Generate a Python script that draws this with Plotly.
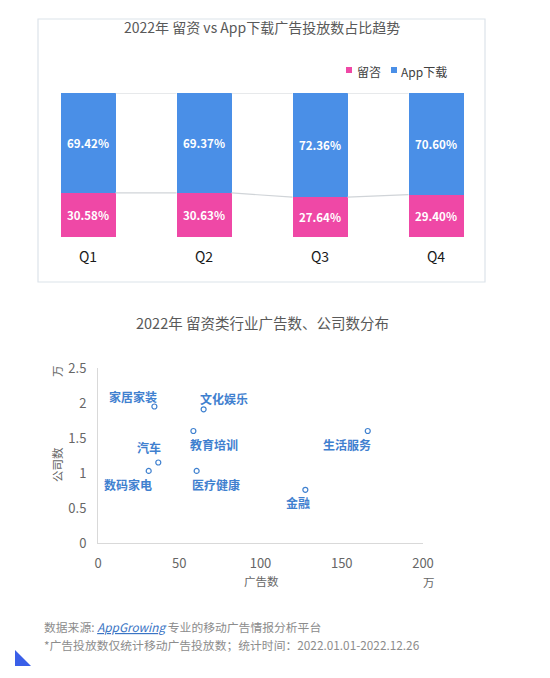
import plotly.graph_objects as go

W, H = 550, 678
OFF = 8  # page body margin
def px(x): return (x - OFF) / W
def py(y): return 1 - (y - OFF) / H

quarters = ["Q1", "Q2", "Q3", "Q4"]
liuzi = [30.58, 30.63, 27.64, 29.40]
app_dl = [69.42, 69.37, 72.36, 70.60]

industries = ["家居家装", "文化娱乐", "教育培训", "生活服务", "汽车", "数码家电", "医疗健康", "金融"]
ad_counts = [34.7, 65.0, 58.7, 166.0, 37.1, 31.2, 60.7, 127.6]      # 万
company_counts = [1.95, 1.91, 1.60, 1.60, 1.15, 1.03, 1.03, 0.76]  # 万
label_shift = [(-21, 10), (20, 11), (21, -13), (-21, -13), (-9, 15), (-21, -14), (19, -14), (-7, -13)]

x_ticks = [0, 50, 100, 150, 200]
y_ticks = [0, 0.5, 1, 1.5, 2, 2.5]

PINK = "#EF48A6"
BLUE = "#4A8FE7"
LBLUE = "#3F80CF"
GRAY = "#666666"
FONT = "Noto Sans CJK SC"
BW = 55 / 116

fig = go.Figure()
xs = list(range(len(quarters)))
fig.add_trace(go.Bar(x=xs, y=liuzi, name="留咨", marker=dict(color=PINK, line=dict(width=0)),
                     width=BW, text=[f"{v:.2f}%" for v in liuzi], textposition="inside",
                     insidetextanchor="middle", textangle=0,
                     textfont=dict(color="white", size=11.5, family=FONT, weight="bold"),
                     xaxis="x", yaxis="y"))
fig.add_trace(go.Bar(x=xs, y=app_dl, name="App下载", marker=dict(color=BLUE, line=dict(width=0)),
                     width=BW, text=[f"{v:.2f}%" for v in app_dl], textposition="inside",
                     insidetextanchor="middle", textangle=0,
                     textfont=dict(color="white", size=11.5, family=FONT, weight="bold"),
                     xaxis="x", yaxis="y"))
# series lines between bars
for i in range(len(quarters) - 1):
    for vals in (liuzi, [a + b for a, b in zip(liuzi, app_dl)]):
        fig.add_trace(go.Scatter(x=[i + BW / 2, i + 1 - BW / 2], y=[vals[i], vals[i + 1]],
                                 mode="lines", line=dict(color="#D0D4D8", width=1.2),
                                 showlegend=False, hoverinfo="skip", xaxis="x", yaxis="y"))

fig.add_trace(go.Scatter(x=ad_counts, y=company_counts, mode="markers",
                         marker=dict(size=5, color="white", line=dict(color=LBLUE, width=1.2)),
                         showlegend=False, xaxis="x2", yaxis="y2"))

fig.update_layout(
    barmode="stack", width=W, height=H, margin=dict(l=0, r=0, t=0, b=0, autoexpand=False),
    paper_bgcolor="white", plot_bgcolor="white", font=dict(family=FONT),
    showlegend=False,
    xaxis=dict(domain=[px(30), px(494)], range=[-0.5, 3.5], tickmode="array", tickvals=xs,
               ticktext=quarters, showline=False, showgrid=False, zeroline=False,
               tickfont=dict(size=14, color="#1a1a1a", family=FONT), ticklabelstandoff=10),
    yaxis=dict(domain=[py(237), py(93)], range=[0, 100], visible=False),
    xaxis2=dict(domain=[px(98), px(423)], range=[0, 200], tickvals=x_ticks, anchor="y2",
                showline=True, linecolor="#D9D9D9", linewidth=1, showgrid=False, zeroline=False,
                tickfont=dict(size=13, color=GRAY, family=FONT), ticklabelstandoff=8),
    yaxis2=dict(domain=[py(543), py(368)], range=[0, 2.5], tickvals=y_ticks, anchor="x2",
                showline=True, linecolor="#D9D9D9", linewidth=1, showgrid=False, zeroline=False,
                tickfont=dict(size=13, color=GRAY, family=FONT), ticklabelstandoff=8),
)

shapes = [
    dict(type="rect", xref="paper", yref="paper", x0=px(38), x1=px(485), y0=py(282), y1=py(19),
         line=dict(color="#DCE3EA", width=1.2), fillcolor="rgba(0,0,0,0)", layer="below"),
    dict(type="path", xref="paper", yref="paper",
         path=f"M {px(15)} {py(650)} L {px(15)} {py(666)} L {px(31)} {py(666)} Z",
         fillcolor="#3A5FE8", line=dict(width=0)),
    # legend swatches
    dict(type="rect", xref="paper", yref="paper", x0=px(346), x1=px(352), y0=py(73), y1=py(67),
         fillcolor=PINK, line=dict(width=0)),
    dict(type="rect", xref="paper", yref="paper", x0=px(391), x1=px(397), y0=py(73), y1=py(67),
         fillcolor=BLUE, line=dict(width=0)),
]
fig.update_layout(shapes=shapes)

P = dict(xref="paper", yref="paper", showarrow=False, yanchor="middle")
ann = [
    dict(x=px(262), y=py(27), xanchor="center", text="2022年 留资 vs App下载广告投放数占比趋势",
         font=dict(size=14, color="#595959", family=FONT), **P),
    dict(x=px(355), y=py(71), xanchor="left", text="留咨",
         font=dict(size=12, color="#404040", family=FONT), **P),
    dict(x=px(399), y=py(71), xanchor="left", text="App下载",
         font=dict(size=12, color="#404040", family=FONT), **P),
    dict(x=px(262), y=py(322), xanchor="center", text="2022年 留资类行业广告数、公司数分布",
         font=dict(size=14.5, color="#595959", family=FONT), **P),
    dict(x=px(57), y=py(371), xanchor="center", text="万", textangle=-90,
         font=dict(size=11.5, color=GRAY, family=FONT), **P),
    dict(x=px(57), y=py(465), xanchor="center", text="公司数", textangle=-90,
         font=dict(size=11.5, color=GRAY, family=FONT), **P),
    dict(x=px(261), y=py(581), xanchor="center", text="广告数",
         font=dict(size=11.5, color=GRAY, family=FONT), **P),
    dict(x=px(429), y=py(582), xanchor="center", text="万",
         font=dict(size=11.5, color=GRAY, family=FONT), **P),
    dict(x=px(42), y=py(626), xanchor="left",
         text="数据来源: <a href='https://appgrowing.cn' style='color:#3A74C4'><i><u>AppGrowing</u></i></a> 专业的移动广告情报分析平台",
         font=dict(size=11.8, color="#8C8C8C", family=FONT), **P),
    dict(x=px(42), y=py(644), xanchor="left",
         text="*广告投放数仅统计移动广告投放数；统计时间：2022.01.01-2022.12.26",
         font=dict(size=11.8, color="#8C8C8C", family=FONT), **P),
]
for name, xv, yv, (dx, dy) in zip(industries, ad_counts, company_counts, label_shift):
    ann.append(dict(x=xv, y=yv, xref="x2", yref="y2", text=f"<b>{name}</b>", showarrow=False,
                    xanchor="center", yanchor="middle",
                    xshift=dx, yshift=dy, font=dict(size=12, color=LBLUE, family=FONT)))
fig.update_layout(annotations=ann)

fig.write_html("out.html")
